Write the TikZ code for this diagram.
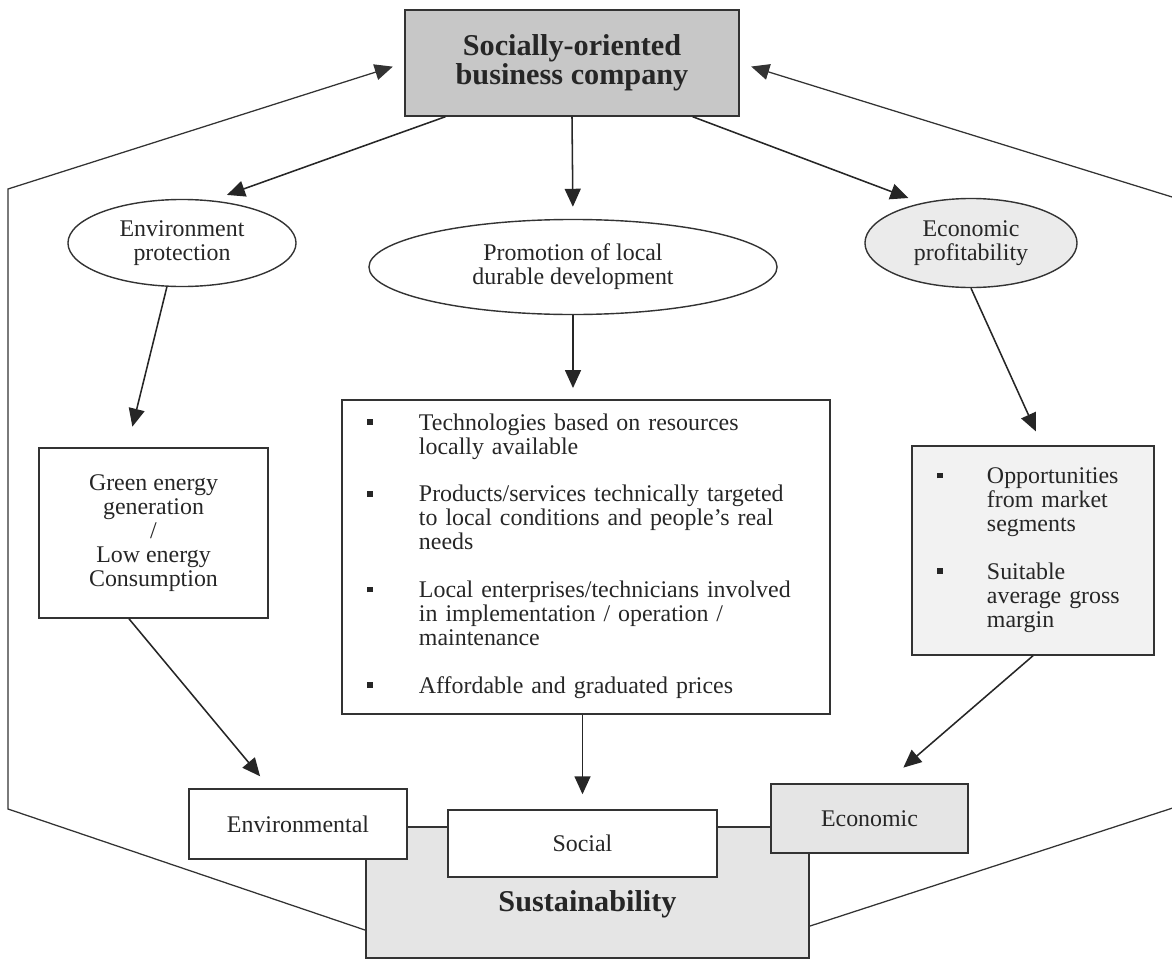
\documentclass[tikz,border=0pt]{standalone}
\usepackage{fontspec}
\setmainfont{Liberation Serif}
\usetikzlibrary{calc,shapes,arrows.meta}
\newcommand{\bul}{\raisebox{0.22em}{\rule{4pt}{4pt}}}

\begin{document}
\begin{tikzpicture}[x=0.025cm, y=-0.025cm,
    font=\fontsize{17}{17}\selectfont, text=black!85,
    box/.style={rectangle, draw=black!80, line width=1pt, inner sep=0pt},
    oval/.style={ellipse, draw=black!80, line width=1pt, inner sep=0pt, align=center},
    link/.style={draw=black!85, line width=1.1pt, -{Triangle[length=4.5mm,width=4mm]}},
    border/.style={draw=black!80, line width=0.9pt, -{Triangle[length=4.5mm,width=4mm]}}]
    \useasboundingbox (0,0) rectangle (1172,960);
    % Place nodes
    \node [box, fill=black!22, align=center, minimum width=8.35cm, minimum height=2.65cm, font=\fontsize{21.5}{20.6}\selectfont\bfseries] (company) at (572,63) {Socially-oriented\\business company};
    \node [oval, minimum width=5.7cm, minimum height=2.175cm] (envp) at (182,243) {Environment\\protection};
    \node [oval, minimum width=10.2cm, minimum height=2.375cm] (promo) at (573,267) {Promotion of local\\durable development};
    \node [oval, fill=black!8, minimum width=5.3cm, minimum height=2.225cm] (econp) at (971,243) {Economic\\profitability};
    \node [box, align=center, minimum width=5.725cm, minimum height=4.25cm] (green) at (153.5,533) {Green energy\\generation\\/\\Low energy\\Consumption};
    \node [box, text width=10.95cm, inner xsep=0.625cm, minimum height=7.85cm] (cbox) at (586,557) {%
        \begin{tabular}{@{}p{1.3cm}@{}l@{}}
        \bul & Technologies based on resources\\
         & locally available\\[17pt]
        \bul & Products/services technically targeted\\
         & to local conditions and people’s real\\
         & needs\\[17pt]
        \bul & Local enterprises/technicians involved\\
         & in implementation / operation /\\
         & maintenance\\[17pt]
        \bul & Affordable and graduated prices
        \end{tabular}};
    \node [box, fill=black!5, text width=4.8cm, inner xsep=0.625cm, minimum height=5.225cm] (rbox) at (1033,550.5) {%
        \begin{tabular}{@{}p{1.25cm}@{}l@{}}
        \bul & Opportunities\\
         & from market\\
         & segments\\[17pt]
        \bul & Suitable\\
         & average gross\\
         & margin
        \end{tabular}};
    % Sustainability and its three pillars
    \node [box, fill=black!10, minimum width=11.075cm, minimum height=3.275cm, label={[font=\fontsize{21.5}{21.5}\selectfont\bfseries, yshift=-0.3cm]center:Sustainability}] (sus) at (587.5,892.5) {};
    \node [box, fill=white, minimum width=5.45cm, minimum height=1.75cm] (envb) at (298,824) {Environmental};
    \node [box, fill=white, minimum width=6.725cm, minimum height=1.675cm] (social) at (582.5,843.5) {Social};
    \node [box, fill=black!10, minimum width=4.925cm, minimum height=1.725cm] (econb) at (869.5,818.5) {Economic};
    \coordinate (lc1) at (8,189);
    \coordinate (lc2) at (8,809);
    \coordinate (rc1) at (1185,201);
    \coordinate (rc2) at (1185,804);
    % Arrows
    \path[link, shorten >=0.4cm] (company.203.5) -- (envp.55);
    \path[link, shorten >=0.3cm] (company.south) -- (promo.north);
    \path[link, shorten >=0.35cm] (company.-24.6) -- (econp.141.5);
    \path[link, shorten >=0.53cm] (envp.251) -- (green.107.6);
    \path[link, shorten >=0.28cm] (promo.south) -- (promo.south |- cbox.north);
    \path[link, shorten >=0.38cm] (econp.south) -- (rbox.85.6);
    \path[link, shorten >=0.39cm] (green.254.5) -- (envb.128.7);
    \path[link, shorten >=0.375cm] (social.north |- cbox.south) -- (social.north);
    \path[link, shorten >=0.6cm] (rbox.south) -- (econb.66.2);
    \path[border, shorten >=0.3cm] ([yshift=-0.94cm]sus.west) -- (lc2) -- (lc1) -- (company.west);
    \path[border, shorten >=0.3cm] ([yshift=-0.84cm]sus.east) -- (rc2) -- (rc1) -- (company.east);
\end{tikzpicture}
\end{document}
